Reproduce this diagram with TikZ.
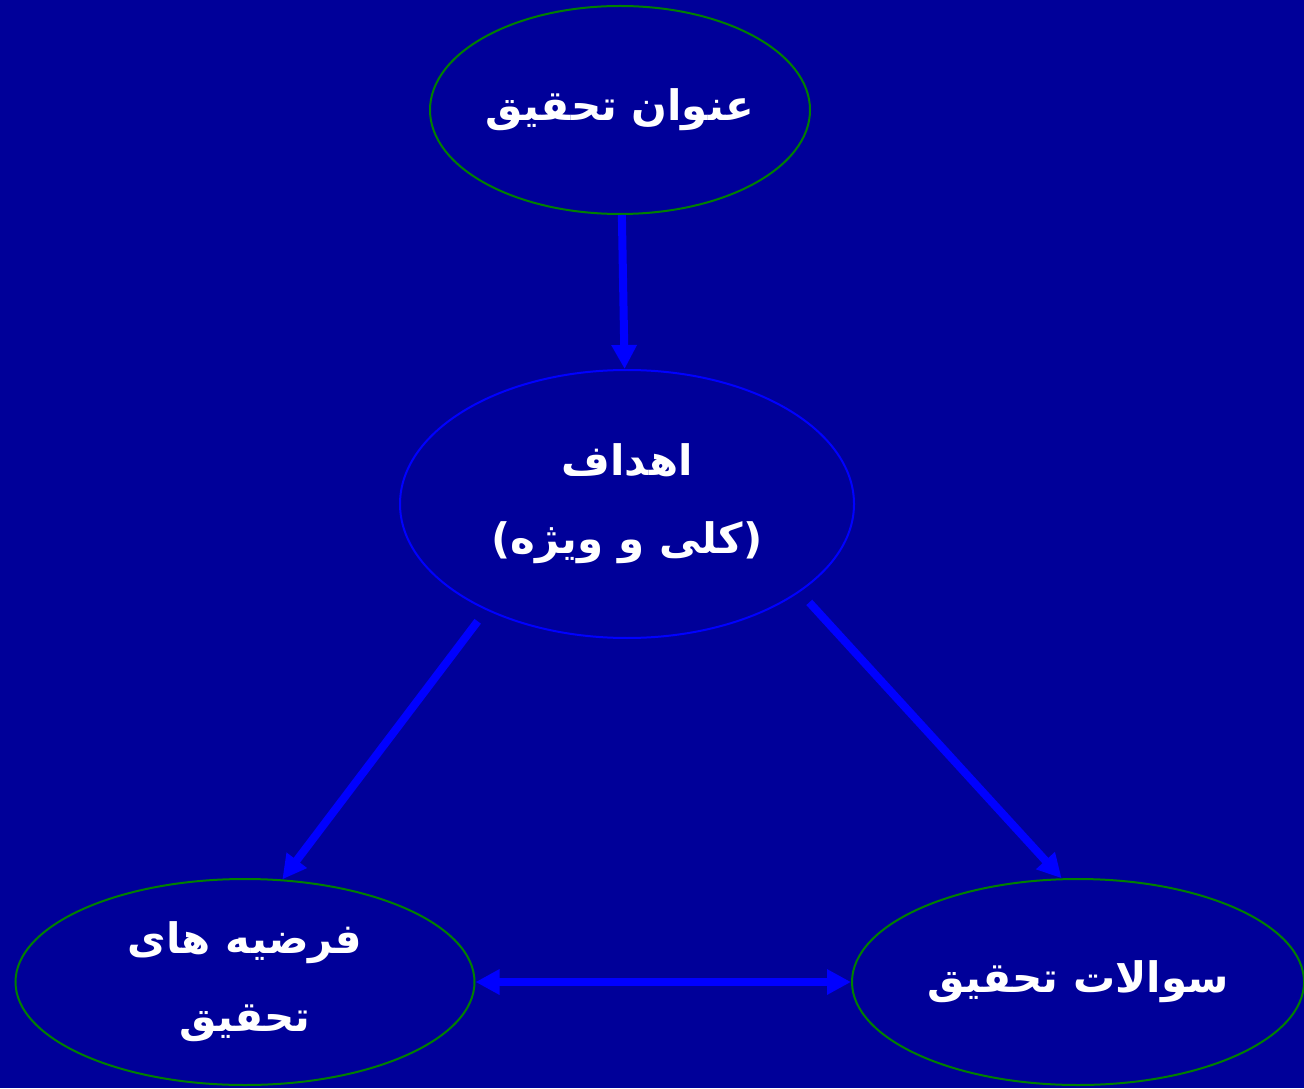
\documentclass[tikz,border=0pt]{standalone}
\usepackage{fontspec}
\usetikzlibrary{shapes.geometric, arrows.meta}
\TeXXeTstate=1
\newfontfamily\arabicfont[Script=Arabic]{DejaVu Sans}
\definecolor{bgblue}{RGB}{0,0,153}
\definecolor{arrowblue}{RGB}{0,0,255}
\definecolor{rimgreen}{RGB}{0,128,0}

\begin{document}
\begin{tikzpicture}[
		base/.style={ellipse, draw=rimgreen, line width=1pt, inner sep=0pt,
			text=white, align=center, font=\arabicfont\bfseries\fontsize{21}{39}\selectfont},
		link/.style={->, draw=arrowblue, line width=4pt},
		>={Triangle[length=12pt, width=12pt]}
	]

	\fill[bgblue] (0pt, 0pt) rectangle (652pt, 544pt);
	\useasboundingbox (0pt, 0pt) rectangle (652pt, 544pt);

	\node[base, minimum width=190pt, minimum height=104pt] at (310pt, 489pt) (title)
		{\beginR عنوان تحقیق\endR};
	\node[base, draw=arrowblue, minimum width=227pt, minimum height=134pt] at (313.5pt, 292pt) (goals)
		{\beginR اهداف\endR\\)\beginR کلی و ویژه\endR(};
	\node[base, minimum width=229.5pt, minimum height=103pt] at (122.5pt, 53pt) (hypo)
		{\beginR فرضیه های\endR\\\beginR تحقیق\endR};
	\node[base, minimum width=226pt, minimum height=103pt] at (539pt, 53pt) (quest)
		{\beginR سوالات تحقیق\endR};

	\draw[link] (title) -- (goals);
	\draw[link, shorten <=7pt] (goals.217) -- (hypo.70);
	\draw[link, shorten <=7pt] (goals.333) -- (quest.99);
	\draw[link, <->] (hypo) -- (quest);

\end{tikzpicture}
\end{document}
